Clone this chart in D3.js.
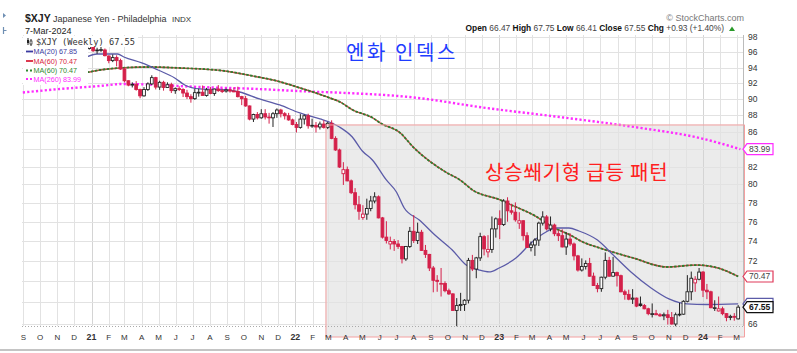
<!DOCTYPE html>
<html>
<head>
<meta charset="utf-8">
<script src="https://cdn.jsdelivr.net/npm/d3@7"></script>
<style>
body { margin: 0; background: #fff; }
svg { display: block; font-family: "Liberation Sans", Arial, sans-serif; }
</style>
</head>
<body>
<svg width="797" height="353"></svg>
<script>
// weekly bars, first week starts on this Monday
var firstWeek = "2020-12-21";
var lastWeek = "2024-03-04";

var opens = [96.8, 96.5,
  96.9, 96.25, 96.3, 96.3, 95.5, 94.9, 95.3, 94.9, 93.8, 92.3, 91.75, 91.85, 91.2, 90.4, 91.2, 91.9, 92.7, 91.5, 92.1, 91.45, 91.8, 91.05, 91.3, 91.2, 90.75, 90.3, 90.05, 90.8, 90.85, 90.45, 91.15, 90.7, 91.25, 91.05, 91.0, 91.15, 91.0, 90.95, 90.3, 90.05, 89.15, 87.55, 88.1, 87.7, 88.2, 87.8, 87.7, 88.2, 88.65, 88.2, 87.95, 87.45,
  86.9, 86.55, 87.55, 87.95, 86.75, 86.8, 86.6, 86.95, 86.55, 87.05, 85.25, 83.9, 81.2, 81.65, 80.4, 79.1, 77.8, 76.45, 76.8, 77.4, 78.2, 78.65, 76.4, 74.4, 73.7, 73.95, 73.7, 73.45, 72.2, 73.45, 75.0, 74.05, 74.9, 73.05, 72.65, 71.3, 70.1, 69.75, 69.8, 69.1, 68.8, 67.25, 67.7, 67.8, 68.2, 72.05, 71.2, 72.3, 74.45, 72.9, 73.15, 75.25,
  76.3, 75.7, 78.2, 77.15, 77.0, 75.85, 76.1, 74.55, 73.35, 73.6, 74.1, 75.85, 76.5, 75.25, 75.65, 74.75, 74.55, 73.4, 74.2, 73.7, 72.5, 71.1, 71.45, 71.75, 70.5, 69.6, 69.3, 70.4, 72.05, 70.5, 70.85, 70.55, 69.0, 68.75, 68.3, 68.4, 67.85, 67.7, 67.4, 66.9, 66.95, 66.85, 66.75, 66.85, 66.6, 66.0, 66.85, 66.9, 68.1, 69.0, 69.85, 70.2,
  70.9, 69.15, 69.0, 67.5, 67.2, 67.4, 66.95, 66.6, 66.7, 66.47];

var highs = [96.9, 97.15,
  97.45, 96.6, 96.8, 96.5, 95.6, 95.7, 95.6, 95.15, 94.0, 92.35, 92.1, 92.25, 91.3, 91.5, 92.1, 93.0, 92.8, 92.3, 92.3, 92.1, 92.05, 91.45, 91.6, 91.35, 91.15, 90.6, 91.3, 91.3, 91.7, 91.4, 91.5, 91.3, 91.75, 91.3, 91.3, 91.3, 91.45, 91.55, 90.4, 90.4, 89.2, 88.2, 88.4, 88.75, 88.75, 88.3, 88.4, 88.85, 88.8, 88.4, 88.3, 87.6,
  87.2, 88.15, 88.1, 88.2, 87.6, 87.2, 87.25, 87.4, 87.2, 87.4, 85.5, 84.05, 82.5, 82.0, 80.55, 79.6, 78.75, 77.75, 78.45, 78.75, 79.15, 78.8, 76.5, 76.05, 74.45, 74.2, 74.1, 73.5, 73.5, 75.45, 76.7, 75.9, 75.15, 73.6, 72.7, 71.5, 70.6, 71.3, 70.0, 69.3, 68.85, 68.4, 68.9, 68.3, 72.3, 72.6, 72.4, 74.85, 74.6, 74.6, 76.55, 76.45,
  77.2, 78.4, 78.6, 77.9, 78.05, 77.0, 76.15, 74.9, 73.95, 74.3, 76.0, 77.1, 76.7, 76.55, 75.8, 75.05, 75.2, 74.9, 74.8, 73.85, 72.6, 72.25, 72.05, 72.3, 70.85, 69.85, 70.45, 72.85, 72.4, 72.4, 70.95, 70.65, 69.2, 69.2, 69.25, 68.45, 68.55, 67.85, 67.5, 67.9, 67.3, 67.0, 67.05, 67.3, 67.1, 67.05, 67.95, 68.2, 70.6, 70.95, 70.5, 71.3,
  71.0, 69.75, 69.1, 68.2, 68.55, 67.6, 67.0, 66.85, 67.0, 67.75];

var lows = [96.25, 96.35,
  96.05, 95.8, 96.05, 95.45, 94.55, 94.7, 94.15, 93.7, 92.1, 91.6, 91.45, 91.05, 90.1, 90.3, 91.0, 91.75, 91.2, 91.15, 91.05, 91.4, 90.75, 90.65, 91.0, 90.25, 90.0, 89.55, 89.9, 90.3, 90.45, 90.3, 90.6, 90.4, 90.9, 90.75, 90.8, 90.8, 90.85, 90.2, 89.25, 89.05, 87.4, 87.2, 87.5, 87.6, 87.5, 87.0, 86.6, 87.7, 87.75, 87.5, 87.35, 86.8,
  85.95, 86.4, 86.9, 86.4, 86.5, 85.95, 86.3, 86.4, 86.35, 85.15, 83.8, 81.85, 79.95, 80.35, 78.95, 77.3, 76.2, 76.2, 76.2, 77.1, 77.95, 76.35, 74.25, 73.75, 73.15, 73.0, 73.2, 71.75, 72.0, 73.3, 73.8, 73.7, 73.0, 72.3, 71.0, 68.95, 69.0, 68.55, 68.95, 68.7, 67.2, 65.8, 67.2, 67.2, 67.9, 71.0, 70.3, 72.0, 72.55, 72.35, 72.8, 74.35,
  74.2, 75.55, 76.0, 76.75, 76.0, 75.25, 74.05, 73.3, 72.95, 72.5, 73.5, 75.6, 75.1, 75.0, 74.5, 74.0, 73.35, 72.6, 73.5, 72.05, 70.95, 70.95, 71.15, 70.45, 69.55, 68.95, 69.0, 70.2, 70.45, 70.45, 69.5, 68.95, 68.25, 68.2, 67.85, 67.55, 67.6, 67.35, 66.8, 66.6, 66.8, 66.65, 66.35, 65.95, 65.95, 65.8, 66.7, 66.85, 68.0, 68.2, 69.0, 70.1,
  68.5, 68.3, 67.45, 67.2, 67.15, 66.8, 66.25, 66.35, 66.3, 66.41];

var closes = [96.5, 96.85,
  96.2, 96.3, 96.35, 95.55, 94.9, 95.3, 94.9, 93.8, 92.3, 91.75, 91.85, 91.2, 90.4, 91.2, 91.9, 92.7, 91.5, 92.1, 91.45, 91.8, 91.05, 91.3, 91.2, 90.75, 90.3, 90.05, 90.8, 90.85, 90.45, 91.15, 90.7, 91.25, 91.05, 91.0, 91.15, 91.0, 90.95, 90.3, 90.05, 89.15, 87.55, 88.1, 87.7, 88.2, 87.8, 87.7, 88.2, 88.65, 88.2, 87.95, 87.45, 86.9,
  86.55, 87.55, 87.95, 86.75, 86.8, 86.6, 86.95, 86.55, 87.05, 85.25, 83.9, 81.95, 81.65, 80.4, 79.1, 77.8, 77.1, 76.8, 77.4, 78.2, 78.65, 76.4, 74.4, 74.05, 73.95, 73.7, 73.45, 72.2, 73.45, 75.0, 74.05, 74.9, 73.05, 72.65, 71.3, 70.1, 70.0, 69.8, 69.1, 68.8, 67.25, 67.7, 67.8, 68.2, 72.05, 71.2, 72.3, 74.45, 73.2, 73.15, 75.25, 76.3,
  75.7, 78.2, 77.15, 77.0, 76.2, 76.1, 74.55, 73.35, 73.6, 74.1, 75.85, 76.5, 75.25, 75.65, 74.75, 74.55, 73.4, 74.2, 73.7, 72.5, 71.1, 71.45, 71.75, 70.5, 69.6, 69.3, 70.4, 72.05, 70.5, 70.85, 70.55, 69.0, 68.75, 68.3, 68.4, 67.65, 67.7, 67.4, 66.95, 66.95, 66.85, 66.75, 66.85, 66.6, 66.0, 66.85, 66.9, 68.1, 69.0, 70.3, 70.2, 70.9,
  69.15, 69.0, 67.5, 67.5, 67.4, 66.95, 66.6, 66.7, 66.62, 67.55];

// moving averages
var ma20 = [["2020-12-23", 95.37], ["2021-01-11", 95.77], ["2021-02-17", 95.77], ["2021-02-28", 95.37], ["2021-04-01", 94.59],
  ["2021-04-30", 93.68], ["2021-05-30", 92.66], ["2021-06-17", 91.76], ["2021-07-14", 91.26], ["2021-09-02", 91.13],
  ["2021-09-23", 90.88], ["2021-10-29", 90.01], ["2021-12-04", 89.27], ["2022-01-09", 88.29], ["2022-02-14", 87.56],
  ["2022-03-03", 87.2], ["2022-03-21", 86.6], ["2022-04-13", 85.41], ["2022-05-01", 83.78], ["2022-05-19", 82.75],
  ["2022-06-13", 80.5], ["2022-07-01", 79.18], ["2022-07-15", 77.45], ["2022-08-11", 76.18], ["2022-09-10", 74.51],
  ["2022-10-09", 73.09], ["2022-11-03", 71.59], ["2022-11-26", 71.1], ["2022-12-14", 70.91], ["2023-01-01", 71.3],
  ["2023-01-31", 72.29], ["2023-03-01", 73.9], ["2023-03-26", 74.93], ["2023-04-12", 75.34], ["2023-05-06", 75.34],
  ["2023-05-24", 75.03], ["2023-06-26", 74.1], ["2023-07-26", 72.49], ["2023-08-25", 70.91], ["2023-09-30", 69.36],
  ["2023-11-01", 68.32], ["2023-12-03", 67.85], ["2024-01-08", 67.8], ["2024-03-04", 67.85]];

var ma60 = [["2020-12-24", 93.36], ["2021-01-16", 93.68], ["2021-02-21", 93.94], ["2021-04-15", 94.07], ["2021-06-08", 93.94],
  ["2021-08-28", 93.55], ["2021-10-26", 92.78], ["2021-11-22", 92.4], ["2022-01-10", 91.38], ["2022-02-27", 90.26],
  ["2022-03-22", 89.64], ["2022-04-14", 88.65], ["2022-05-20", 87.68], ["2022-06-02", 87.08], ["2022-07-08", 85.89],
  ["2022-07-31", 84.24], ["2022-09-30", 81.28], ["2022-10-23", 80.5], ["2022-11-15", 79.37], ["2023-01-03", 78.31],
  ["2023-01-15", 77.98], ["2023-03-10", 76.49], ["2023-04-07", 75.44], ["2023-05-08", 74.62], ["2023-05-31", 73.9],
  ["2023-07-01", 73.28], ["2023-08-29", 72.29], ["2023-10-28", 71.4], ["2023-12-21", 71.59], ["2024-01-28", 71.3],
  ["2024-03-04", 70.47]];

var ma260 = [["2020-08-31", 90.82], ["2020-11-06", 91.26], ["2021-01-16", 91.64], ["2021-02-26", 91.89], ["2021-04-13", 91.82],
  ["2021-07-12", 91.51], ["2021-10-25", 91.26], ["2022-01-21", 90.95], ["2022-04-02", 90.76], ["2022-07-25", 90.25],
  ["2022-12-10", 88.89], ["2023-04-19", 87.8], ["2023-09-10", 86.5], ["2023-12-26", 85.3], ["2024-03-08", 83.99]];

var yTicks = [66, 68, 70, 72, 74, 76, 78, 80, 82, 84, 86, 88, 90, 92, 94, 96, 98];
var monthLetters = ["J", "F", "M", "A", "M", "J", "J", "A", "S", "O", "N", "D"];

// annotation box drawn by the author
var boxStart = "2022-02-24";
var boxTop = 86.9;

var parseDate = d3.timeParse("%Y-%m-%d");
var svg = d3.select("svg");
var pLeft = 22, pRight = 743, pTop = 35, pBottom = 326;

var x = d3.scaleTime()
  .domain([parseDate("2021-01-01"), parseDate("2024-01-01")])
  .range([91.5, 703]);
var y = d3.scaleLog()
  .domain([65.82, 98.31])
  .range([pBottom, pTop]);

var weeks = d3.timeMonday.range(parseDate(firstWeek), d3.timeDay.offset(parseDate(lastWeek), 1));
var data = weeks.map(function(d, i) {
  return {date: d, open: opens[i], high: highs[i], low: lows[i], close: closes[i],
    prev: i > 0 ? closes[i - 1] : opens[i]};
});

svg.append("defs").append("clipPath").attr("id", "plot")
  .append("rect").attr("x", pLeft).attr("y", pTop).attr("width", pRight - pLeft).attr("height", pBottom - pTop);

// annotation shading (under the grid)
var bx = x(parseDate(boxStart)), by = y(boxTop);
svg.append("rect")
  .attr("x", bx).attr("y", by).attr("width", 745 - bx).attr("height", 337 - by)
  .attr("fill", "#ebebeb");

// grid
var months = d3.timeMonth.range(parseDate("2020-09-01"), parseDate("2024-03-02"));
var grid = svg.append("g");
grid.selectAll(".vg").data(months).enter().append("line")
  .attr("x1", function(d) { return Math.round(x(d)) + 0.5; })
  .attr("x2", function(d) { return Math.round(x(d)) + 0.5; })
  .attr("y1", pTop).attr("y2", pBottom)
  .attr("stroke", function(d) { return d.getMonth() == 0 ? "#d4d4d4" : "#e2e2e2"; })
  .attr("stroke-width", 1);
grid.selectAll(".hg").data(yTicks).enter().append("line")
  .attr("x1", pLeft).attr("x2", pRight)
  .attr("y1", function(d) { return Math.round(y(d)) + 0.5; })
  .attr("y2", function(d) { return Math.round(y(d)) + 0.5; })
  .attr("stroke", "#e2e2e2");
grid.append("line").attr("x1", pLeft).attr("x2", pRight).attr("y1", pBottom + 0.5).attr("y2", pBottom + 0.5)
  .attr("stroke", "#aaa").attr("stroke-dasharray", "1,2");
grid.append("line").attr("x1", pRight + 0.5).attr("x2", pRight + 0.5).attr("y1", pTop).attr("y2", pBottom)
  .attr("stroke", "#bbb");

// moving averages
var maLine = d3.line()
  .x(function(d) { return x(parseDate(d[0])); })
  .y(function(d) { return y(d[1]); })
  .curve(d3.curveMonotoneX);

var lines = svg.append("g").attr("clip-path", "url(#plot)");
lines.append("path").datum(ma260).attr("d", maLine).attr("fill", "none")
  .attr("stroke", "#ff2cff").attr("stroke-width", 2.4).attr("stroke-dasharray", "2.2,2.2");
lines.append("path").datum(ma60).attr("d", maLine).attr("fill", "none")
  .attr("stroke", "#c84848").attr("stroke-width", 1.4);
lines.append("path").datum(ma60).attr("d", maLine).attr("fill", "none")
  .attr("stroke", "#2e7d2e").attr("stroke-width", 1.8).attr("stroke-dasharray", "2.5,1.5");
lines.append("path").datum(ma20).attr("d", maLine).attr("fill", "none")
  .attr("stroke", "#5b5ba8").attr("stroke-width", 1.3);

// candles
function colorOf(d) { return d.close >= d.prev ? "#222" : "#d4204a"; }
var candle = svg.append("g").selectAll("g").data(data).enter().append("g");
candle.append("line")
  .attr("x1", function(d) { return x(d.date); })
  .attr("x2", function(d) { return x(d.date); })
  .attr("y1", function(d) { return y(d.high); })
  .attr("y2", function(d) { return y(d.low); })
  .attr("stroke", colorOf).attr("stroke-width", 1);
candle.append("rect")
  .attr("x", function(d) { return x(d.date) - 1.4; })
  .attr("width", 2.8)
  .attr("y", function(d) { return y(Math.max(d.open, d.close)); })
  .attr("height", function(d) { return Math.max(0.8, Math.abs(y(d.open) - y(d.close))); })
  .attr("fill", function(d) { return d.close < d.open ? colorOf(d) : "#fff"; })
  .attr("stroke", colorOf).attr("stroke-width", 0.9);

// annotation box border
svg.append("path")
  .attr("d", "M" + (bx + 0.5) + "," + 337 + "V" + (by + 0.5) + "H" + 744.5 + "V" + 337 + "H" + (bx + 0.5))
  .attr("fill", "none").attr("stroke", "#f4a0a0").attr("stroke-width", 1);

// legend box
var legend = svg.append("g");
legend.append("rect").attr("x", 23).attr("y", 36).attr("width", 65).attr("height", 49).attr("fill", "#fff");
legend.append("rect").attr("x", 23).attr("y", 36).attr("width", 115).attr("height", 11).attr("fill", "#fff");
legend.append("line").attr("x1", 28).attr("x2", 28).attr("y1", 38).attr("y2", 45).attr("stroke", "#222");
legend.append("rect").attr("x", 27).attr("y", 40).attr("width", 2).attr("height", 3).attr("fill", "#222");
legend.append("line").attr("x1", 31).attr("x2", 31).attr("y1", 39).attr("y2", 46).attr("stroke", "#222");
legend.append("rect").attr("x", 30).attr("y", 41).attr("width", 2).attr("height", 3).attr("fill", "#fff").attr("stroke", "#222").attr("stroke-width", 0.7);
legend.append("text").attr("x", 36).attr("y", 45).attr("font-family", "'DejaVu Sans Mono', monospace")
  .attr("font-size", "8.8px").attr("fill", "#333")
  .attr("textLength", 99).attr("lengthAdjust", "spacingAndGlyphs")
  .text("$XJY (Weekly) " + closes[closes.length - 1].toFixed(2));

var legendItems = [
  {label: "MA(20) " + ma20[ma20.length - 1][1].toFixed(2), color: "#3a3aa0", dash: null, yy: 54},
  {label: "MA(60) " + ma60[ma60.length - 1][1].toFixed(2), color: "#d8243c", dash: null, yy: 63.5},
  {label: "MA(60) " + ma60[ma60.length - 1][1].toFixed(2), color: "#2f8a2f", dash: "2,2", yy: 73},
  {label: "MA(260) " + ma260[ma260.length - 1][1].toFixed(2), color: "#ff2cff", dash: "2,2", yy: 81.5}
];
legendItems.forEach(function(it) {
  legend.append("line").attr("x1", 26).attr("x2", 33).attr("y1", it.yy - 2.5).attr("y2", it.yy - 2.5)
    .attr("stroke", it.color).attr("stroke-width", 1.8).attr("stroke-dasharray", it.dash);
  legend.append("text").attr("x", 33.5).attr("y", it.yy).attr("font-size", "7.2px").attr("fill", it.color).text(it.label);
});

// bottom axis labels
svg.append("g").selectAll("text").data(months).enter().append("text")
  .attr("x", function(d) { return x(d); })
  .attr("y", 340)
  .attr("text-anchor", "middle")
  .attr("font-size", function(d) { return d.getMonth() == 0 ? "8.8px" : "8px"; })
  .attr("font-weight", function(d) { return d.getMonth() == 0 ? "bold" : "normal"; })
  .attr("fill", "#333")
  .text(function(d) { return d.getMonth() == 0 ? d3.timeFormat("%y")(d) : monthLetters[d.getMonth()]; });

// value tags on the right axis (last values of each series)
var tags = [
  {v: ma260[ma260.length - 1][1], color: "#ff2cff", bold: false, tc: "#444"},
  {v: ma60[ma60.length - 1][1], color: "#e03a5a", bold: false, tc: "#444"},
  {v: ma20[ma20.length - 1][1], color: "#5b5ba8", bold: false, tc: "#444"},
  {v: closes[closes.length - 1], color: "#111", bold: true, tc: "#111"}
];

// right axis labels, the ones under a tag are hidden by it
svg.append("g").selectAll("text")
  .data(yTicks.filter(function(t) {
    return !tags.some(function(g) { return Math.abs(y(g.v) - y(t)) < 9; });
  }))
  .enter().append("text")
  .attr("x", 748).attr("y", function(d) { return y(d) + 3; })
  .attr("font-size", "8.5px").attr("fill", "#333")
  .text(function(d) { return d; });

tags.forEach(function(g) {
  var ty = y(g.v);
  svg.append("path")
    .attr("d", "M743," + ty + "L747," + (ty - 5.5) + "H773V" + (ty + 5.5) + "H747Z")
    .attr("fill", "#fff").attr("stroke", g.color).attr("stroke-width", 1.2);
  if (g.bold || Math.abs(ty - y(tags[3].v)) > 9) {
    svg.append("text").attr("x", 749).attr("y", ty + 3).attr("font-size", "8.5px")
      .attr("font-weight", g.bold ? "bold" : "normal").attr("fill", g.tc).text(g.v.toFixed(2));
  }
});

// header
var last = data[data.length - 1];
var chg = last.close - last.prev;
svg.append("text").attr("x", 25).attr("y", 22).attr("font-size", "10.5px").attr("font-weight", "bold").attr("fill", "#222").text("$XJY");
svg.append("text").attr("x", 53).attr("y", 22).attr("font-size", "9px").attr("fill", "#333").text("Japanese Yen - Philadelphia");
svg.append("text").attr("x", 172).attr("y", 22).attr("font-size", "8px").attr("fill", "#333").text("INDX");
svg.append("text").attr("x", 25).attr("y", 33.5).attr("font-size", "9px").attr("fill", "#222").text("7-Mar-2024");
svg.append("text").attr("x", 744).attr("y", 21).attr("text-anchor", "end").attr("font-size", "9px").attr("fill", "#777").text("\u00a9 StockCharts.com");

var hdr = svg.append("text").attr("x", 724).attr("y", 31).attr("text-anchor", "end").attr("font-size", "8.4px").attr("fill", "#333");
[["Open ", true], [last.open.toFixed(2) + " ", false], ["High ", true], [last.high.toFixed(2) + " ", false],
 ["Low ", true], [last.low.toFixed(2) + " ", false], ["Close ", true], [last.close.toFixed(2) + " ", false],
 ["Chg ", true], ["+" + chg.toFixed(2) + " (+" + (chg / last.prev * 100).toFixed(2) + "%)", false]]
  .forEach(function(p) {
    hdr.append("tspan").attr("font-weight", p[1] ? "bold" : "normal").attr("fill", p[1] ? "#111" : "#444").text(p[0]);
  });
svg.append("path").attr("d", "M729,31L732,26.5L735,31Z").attr("fill", "#2a9a2a");

// little toolbar marks at far left
svg.append("path").attr("d", "M3,13L6,15.5L3,18Z").attr("fill", "#6f8fb3");
svg.append("path").attr("d", "M3.5,27V34M3.5,30.5H6.5").attr("stroke", "#6f8fb3").attr("stroke-width", 1.2);

// separator
svg.append("line").attr("x1", 0).attr("x2", 797).attr("y1", 350).attr("y2", 350).attr("stroke", "#c4c4c4").attr("stroke-width", 2);

// Korean annotations
svg.append("text").attr("x", 346).attr("y", 60).attr("font-family", "'Noto Sans CJK KR', sans-serif")
  .attr("font-size", "20px").attr("letter-spacing", "2.6px").attr("fill", "#1e3cff").text("엔화 인덱스");
svg.append("text").attr("x", 485).attr("y", 180).attr("font-family", "'Noto Sans CJK KR', sans-serif")
  .attr("font-size", "20px").attr("letter-spacing", "0.8px").attr("fill", "#ff2020").text("상승쐐기형 급등 패턴");
</script>
</body>
</html>
